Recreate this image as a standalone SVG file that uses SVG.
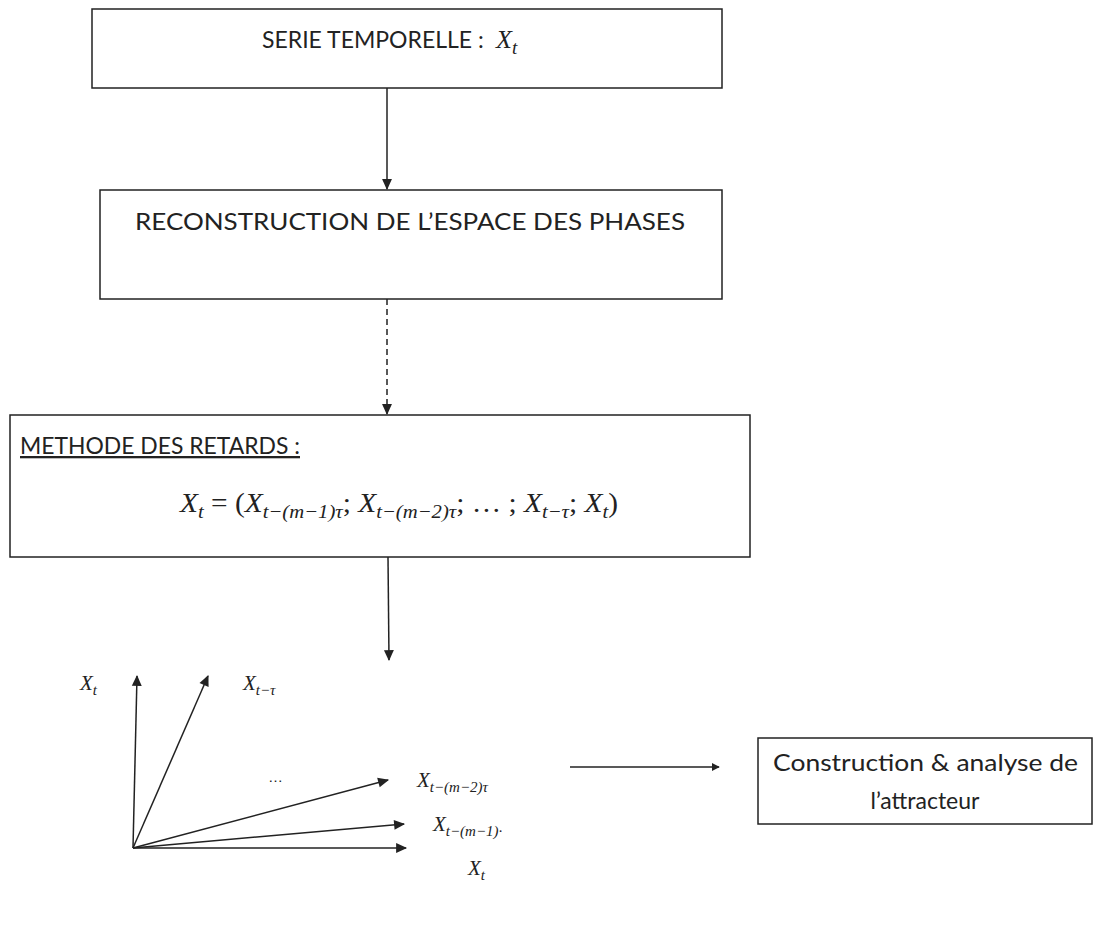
<svg xmlns="http://www.w3.org/2000/svg" width="1101" height="927" viewBox="0 0 1101 927">
<style>
.box{fill:#fff;stroke:#222;stroke-width:1.5}
.t{font-family:Lato,"Liberation Sans",sans-serif;font-size:23px;fill:#222}
.m{font-family:"Liberation Serif",serif;font-style:italic;fill:#222}
.u{font-style:normal}
.c{stroke:#222;stroke-width:1.5;fill:none}
</style>
<defs>
<marker id="ah" viewBox="0 0 10 10" refX="9" refY="5" markerWidth="8" markerHeight="8" orient="auto" markerUnits="userSpaceOnUse">
<path d="M0,0 L10,5 L0,10 z" fill="#222"/>
</marker>
<marker id="ah2" viewBox="0 0 10 10" refX="9" refY="5" markerWidth="12" markerHeight="11" orient="auto" markerUnits="userSpaceOnUse">
<path d="M0,0.5 L10,5 L0,9.5 z" fill="#222"/>
</marker>
</defs>
<g id="n1">
<rect class="box" x="92" y="9" width="630" height="79"/>
<text class="t" x="262" y="48" font-size="21">SERIE TEMPORELLE :</text>
<text class="m" x="496" y="48" font-size="26">X<tspan font-size="19" dy="6">t</tspan></text>
</g>
<g id="n2">
<rect class="box" x="100" y="190" width="622" height="109"/>
<text class="t" x="135" y="230" textLength="550" lengthAdjust="spacingAndGlyphs">RECONSTRUCTION DE L’ESPACE DES PHASES</text>
</g>
<g id="n3">
<rect class="box" x="10" y="415" width="740" height="142"/>
<text class="t" x="20" y="454" textLength="280" lengthAdjust="spacingAndGlyphs" text-decoration="underline">METHODE DES RETARDS :</text>
<text class="m" x="180" y="512" font-size="27" textLength="438" lengthAdjust="spacingAndGlyphs">X<tspan font-size="19" dy="6">t</tspan><tspan class="u" dy="-6"> = (</tspan>X<tspan font-size="19" dy="6">t−(m−1)τ</tspan><tspan class="u" dy="-6">; </tspan>X<tspan font-size="19" dy="6">t−(m−2)τ</tspan><tspan class="u" dy="-6">; … ; </tspan>X<tspan font-size="19" dy="6">t−τ</tspan><tspan class="u" dy="-6">; </tspan>X<tspan font-size="19" dy="6">t</tspan><tspan class="u" dy="-6">)</tspan></text>
</g>
<g id="n4">
<rect class="box" x="758" y="738" width="334" height="86"/>
<text class="t" x="773" y="771" font-size="24" textLength="305" lengthAdjust="spacingAndGlyphs">Construction &amp; analyse de</text>
<text class="t" x="925" y="809" font-size="24" text-anchor="middle">l’attracteur</text>
</g>
<g id="axes">
<text class="m" x="80" y="690" font-size="21">X<tspan font-size="15" dy="5">t</tspan></text>
<text class="m" x="243" y="690" font-size="21">X<tspan font-size="15" dy="5">t−τ</tspan></text>
<text x="268" y="782" font-family="Liberation Sans,sans-serif" font-size="15" fill="#222">…</text>
<text class="m" x="417" y="787" font-size="21">X<tspan font-size="15" dy="5">t−(m−2)τ</tspan></text>
<text class="m" x="433" y="831" font-size="21">X<tspan font-size="15" dy="5">t−(m−1)·</tspan></text>
<text class="m" x="468" y="875" font-size="21">X<tspan font-size="15" dy="5">t</tspan></text>
</g>
<g id="connectors">
<line class="c" x1="387" y1="88" x2="387" y2="189" marker-end="url(#ah2)"/>
<line class="c" x1="387" y1="299" x2="387" y2="414" stroke-dasharray="6,4" marker-end="url(#ah2)"/>
<line class="c" x1="388" y1="557" x2="389" y2="660" marker-end="url(#ah2)"/>
<line class="c" x1="570" y1="767" x2="719" y2="767" marker-end="url(#ah)"/>
<line class="c" x1="133" y1="848" x2="137" y2="676" marker-end="url(#ah2)"/>
<line class="c" x1="133" y1="848" x2="208" y2="676" marker-end="url(#ah2)"/>
<line class="c" x1="133" y1="848" x2="388" y2="780" marker-end="url(#ah2)"/>
<line class="c" x1="133" y1="848" x2="404" y2="824" marker-end="url(#ah2)"/>
<line class="c" x1="133" y1="848" x2="406" y2="848" marker-end="url(#ah2)"/>
</g>
</svg>
